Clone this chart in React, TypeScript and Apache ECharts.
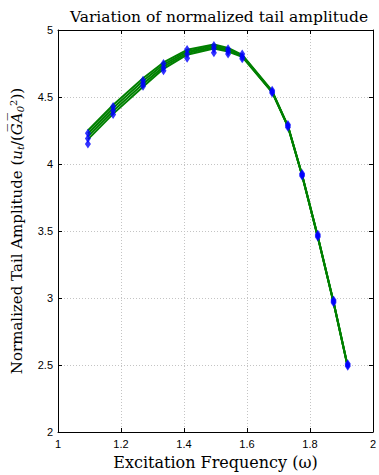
import React, { useEffect, useRef } from "react";
import * as echarts from "echarts";

// Excitation frequencies (ω) of the sampled runs
const omega = [1.095, 1.175, 1.27, 1.335, 1.41, 1.495, 1.54, 1.585, 1.68, 1.73, 1.775, 1.825, 1.875, 1.92];

// Fitted amplitude curves (green band)
const curveA = [4.25, 4.44, 4.64, 4.758, 4.852, 4.892, 4.866, 4.815, 4.545, 4.285, 3.92, 3.46, 2.97, 2.49];
const curveB = [4.228, 4.418, 4.619, 4.742, 4.84, 4.882, 4.857, 4.81, 4.54, 4.283, 3.918, 3.458, 2.968, 2.488];
const curveC = [4.206, 4.396, 4.598, 4.726, 4.828, 4.872, 4.849, 4.805, 4.537, 4.281, 3.916, 3.456, 2.966, 2.486];
const curveD = [4.184, 4.374, 4.577, 4.71, 4.816, 4.862, 4.84, 4.8, 4.534, 4.279, 3.914, 3.454, 2.964, 2.484];

// Measured amplitudes (blue diamonds)
const measuredHigh = [4.23, 4.43, 4.625, 4.75, 4.855, 4.885, 4.86, 4.82, 4.55, 4.295, 3.93, 3.475, 2.985, 2.51];
const measuredMid = [4.19, 4.4, 4.6, 4.72, 4.82, 4.86, 4.84, 4.8, 4.54, 4.285, 3.92, 3.465, 2.975, 2.5];
const measuredLow = [4.15, 4.37, 4.58, 4.695, 4.79, 4.83, 4.82, 4.785, 4.53, 4.275, 3.91, 3.455, 2.965, 2.49];

const xTicks = [1, 1.2, 1.4, 1.6, 1.8, 2];
const yTicks = [2, 2.5, 3, 3.5, 4, 4.5, 5];

const curves = [curveA, curveB, curveC, curveD];
const measured = [measuredHigh, measuredMid, measuredLow];

const serif = "'DejaVu Serif', 'Liberation Serif', serif";
const sans = "'Liberation Sans', Arial, sans-serif";

export default function App() {
  const ref = useRef<HTMLDivElement>(null);

  useEffect(() => {
    if (!ref.current) return;
    const chart = echarts.init(ref.current, undefined, { renderer: "svg" });

    const pair = (ys: number[]) => omega.map((x, i) => [x, ys[i]]);

    const lineSeries = curves.map((c) => ({
      type: "line" as const,
      data: pair(c),
      showSymbol: false,
      symbol: "none",
      lineStyle: { color: "#008000", width: 2 },
      xAxisIndex: 0,
      yAxisIndex: 0,
      z: 2,
    }));

    const markerSeries = measured.map((m) => ({
      type: "scatter" as const,
      data: pair(m),
      symbol: "diamond",
      symbolSize: [6, 9],
      itemStyle: { color: "#0000ff" },
      xAxisIndex: 0,
      yAxisIndex: 0,
      z: 3,
    }));

    const axisLine = { show: true, lineStyle: { color: "#000", width: 1 } };
    const tick = { show: true, inside: true, length: 4, lineStyle: { color: "#000" } };
    const grid = { show: true, lineStyle: { color: "#c4c4c4", type: [1, 2], width: 1 } };

    chart.setOption({
      animation: false,
      backgroundColor: "#fff",
      title: {
        text: "Variation of normalized tail amplitude",
        left: 214,
        textAlign: "center",
        top: 4,
        textStyle: { fontFamily: serif, fontWeight: "normal", fontSize: 15.5, color: "#000" },
      },
      grid: { left: 51, right: 3, top: 30, bottom: 37, containLabel: false },
      xAxis: [
        {
          type: "value",
          min: 1,
          max: 2,
          interval: 0.2,
          position: "bottom",
          axisLine,
          axisTick: tick,
          axisLabel: {
            fontFamily: sans,
            fontSize: 11,
            color: "#000",
            margin: 6,
            formatter: (v: number) => (xTicks.some((t) => Math.abs(t - v) < 1e-6) ? String(+v.toFixed(1)) : ""),
          },
          splitLine: grid,
          name: "Excitation Frequency (ω)",
          nameLocation: "middle",
          nameGap: 22,
          nameTextStyle: { fontFamily: serif, fontSize: 16, color: "#000" },
        },
        {
          type: "value",
          min: 1,
          max: 2,
          interval: 0.2,
          position: "top",
          axisLine,
          axisTick: tick,
          axisLabel: { show: false },
          splitLine: { show: false },
        },
      ],
      yAxis: [
        {
          type: "value",
          min: 2,
          max: 5,
          interval: 0.5,
          position: "left",
          axisLine,
          axisTick: tick,
          axisLabel: {
            fontFamily: sans,
            fontSize: 11,
            color: "#000",
            margin: 5,
            formatter: (v: number) => (yTicks.some((t) => Math.abs(t - v) < 1e-6) ? String(+v.toFixed(1)) : ""),
          },
          splitLine: grid,
          name: "{n|Normalized Tail Amplitude (}{i|u}{s|t}{n|/(}{i|G̅A̅}{s|0}{p|2}{n|))}",
          nameLocation: "middle",
          nameGap: 32,
          nameRotate: 90,
          nameTextStyle: {
            fontFamily: serif,
            fontSize: 15,
            color: "#000",
            rich: {
              n: { fontFamily: serif, fontSize: 15, color: "#000" },
              i: { fontFamily: serif, fontSize: 15, fontStyle: "italic", color: "#000" },
              s: { fontFamily: serif, fontSize: 10, fontStyle: "italic", color: "#000", padding: [6, 0, 0, 0] },
              p: { fontFamily: serif, fontSize: 10, color: "#000", padding: [0, 0, 8, 0] },
            },
          },
        },
        {
          type: "value",
          min: 2,
          max: 5,
          interval: 0.5,
          position: "right",
          axisLine,
          axisTick: tick,
          axisLabel: { show: false },
          splitLine: { show: false },
        },
      ],
      series: [...lineSeries, ...markerSeries],
    });

    return () => chart.dispose();
  }, []);

  return (
    <div
      ref={ref}
      style={{ position: "fixed", left: 0, top: 0, width: 379, height: 475, background: "#fff" }}
    />
  );
}
